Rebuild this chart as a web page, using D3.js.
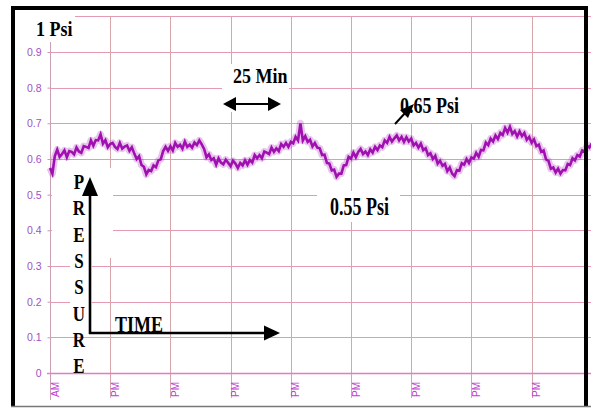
<!DOCTYPE html>
<html><head><meta charset="utf-8">
<script src="https://cdn.jsdelivr.net/npm/d3@7/dist/d3.min.js"></script>
<style>html,body{margin:0;padding:0;background:#fff;}svg{display:block;}</style>
</head><body>
<script>
// ---- data ----
const yTickValues = [0,0.1,0.2,0.3,0.4,0.5,0.6,0.7,0.8,0.9];
const yTickLabels = ["0","0.1","0.2","0.3","0.4","0.5","0.6","0.7","0.8","0.9"];
const yGridValues = [0.1,0.2,0.3,0.4,0.5,0.6,0.7,0.8,0.9,1.0];
const xTickMinutes = [0,25,50,75,100,125,150,175,200];
const xTickLabels = ["AM","PM","PM","PM","PM","PM","PM","PM","PM"];
const stepMinutes = 1;
// pressure (psi), one reading per minute
const pressure = [
0.575,0.559,0.608,0.626,0.606,0.614,0.624,0.605,0.622,0.620,
0.613,0.632,0.621,0.617,0.636,0.634,0.631,0.652,0.637,0.653,
0.652,0.669,0.643,0.653,0.633,0.642,0.645,0.634,0.628,0.645,
0.629,0.635,0.638,0.623,0.633,0.615,0.600,0.608,0.583,0.578,
0.557,0.569,0.566,0.582,0.577,0.596,0.599,0.622,0.634,0.623,
0.636,0.624,0.645,0.634,0.640,0.629,0.649,0.634,0.640,0.632,
0.646,0.639,0.652,0.641,0.628,0.605,0.613,0.597,0.602,0.584,
0.602,0.590,0.585,0.598,0.589,0.580,0.595,0.587,0.575,0.589,
0.582,0.596,0.584,0.597,0.590,0.611,0.602,0.611,0.602,0.621,
0.618,0.614,0.632,0.620,0.630,0.622,0.642,0.634,0.645,0.634,
0.648,0.644,0.662,0.652,0.700,0.652,0.664,0.648,0.654,0.635,
0.645,0.632,0.630,0.611,0.612,0.589,0.587,0.568,0.570,0.550,
0.559,0.559,0.582,0.583,0.606,0.601,0.618,0.605,0.620,0.628,
0.614,0.621,0.611,0.627,0.618,0.634,0.625,0.638,0.633,0.652,
0.645,0.662,0.649,0.658,0.666,0.652,0.662,0.648,0.661,0.649,
0.657,0.638,0.645,0.632,0.643,0.625,0.630,0.611,0.616,0.600,
0.609,0.587,0.595,0.581,0.586,0.566,0.576,0.559,0.552,0.569,
0.567,0.588,0.584,0.600,0.589,0.604,0.601,0.617,0.606,0.625,
0.624,0.646,0.639,0.657,0.649,0.666,0.656,0.673,0.667,0.687,
0.674,0.690,0.670,0.678,0.663,0.677,0.664,0.673,0.654,0.662,
0.646,0.655,0.636,0.640,0.620,0.624,0.599,0.595,0.573,0.576,
0.562,0.573,0.559,0.569,0.568,0.586,0.583,0.602,0.596,0.611,
0.607,0.624,0.621,0.637,0.632,0.644
];

// ---- drawing ----
const W = 591, H = 409;
const svg = d3.select("body").append("svg").attr("width", W).attr("height", H);
const x = d3.scaleLinear().domain([0, 225]).range([50, 591.8]);
const y = d3.scaleLinear().domain([0, 1]).range([373, 16.3]);

// horizontal grid
svg.append("g").selectAll("line").data(yGridValues).join("line")
  .attr("x1", 50).attr("x2", W)
  .attr("y1", d => Math.round(y(d)) + 0.5).attr("y2", d => Math.round(y(d)) + 0.5)
  .attr("stroke", "#e49ab2").attr("stroke-width", 1);
// vertical grid
svg.append("g").selectAll("line").data(xTickMinutes.slice(1)).join("line")
  .attr("x1", d => Math.round(x(d)) + 0.5).attr("x2", d => Math.round(x(d)) + 0.5)
  .attr("y1", 16).attr("y2", 398)
  .attr("stroke", "#d6a6aa").attr("stroke-width", 1);
// y axis line
svg.append("line").attr("x1", 50.5).attr("x2", 50.5).attr("y1", 16).attr("y2", 400)
  .attr("stroke", "#c9a0b4").attr("stroke-width", 1);
// zero line
svg.append("line").attr("x1", 47).attr("x2", W)
  .attr("y1", y(0) + 0.5).attr("y2", y(0) + 0.5)
  .attr("stroke", "#e07cc4").attr("stroke-width", 1.4);

// y axis ticks + labels
const yAxis = d3.axisLeft(y).tickValues(yTickValues).tickSize(3).tickPadding(6)
  .tickFormat((d, i) => yTickLabels[i]);
const gy = svg.append("g").attr("transform", "translate(50.5,0)").call(yAxis);
gy.select(".domain").remove();
gy.selectAll(".tick line").attr("stroke", "#d690b4");
gy.selectAll(".tick text").attr("fill", "#a050c4")
  .style("font-family", "'Liberation Sans', Arial, sans-serif").style("font-size", "10.5px");

// x tick labels (rotated)
svg.append("g").selectAll("text").data(xTickMinutes).join("text")
  .attr("transform", d => `translate(${x(d) + 8.5},397) rotate(-90)`)
  .attr("text-anchor", "start")
  .attr("fill", "#c040d2")
  .style("font-family", "'Liberation Sans', Arial, sans-serif").style("font-size", "10px")
  .text((d, i) => xTickLabels[i]);

// white annotation boxes
const boxes = [
  [15, 10, 60, 32],   // 1 Psi
  [52, 168, 61, 90],  // pressure label area
  [70, 258, 22, 72],
  [113, 311, 52, 21], // TIME
  [222, 64, 67, 48],  // 25 Min
  [397, 89, 83, 34],  // 0.65 Psi
  [317, 191, 83, 31]  // 0.55 Psi
];
svg.append("g").selectAll("rect").data(boxes).join("rect")
  .attr("x", d => d[0]).attr("y", d => d[1]).attr("width", d => d[2]).attr("height", d => d[3])
  .attr("fill", "#fff");

// pressure trace
const line = d3.line().x((d, i) => x(i * stepMinutes)).y(d => y(d));
svg.append("path").datum(pressure).attr("d", line)
  .attr("fill", "none").attr("stroke", "#b040c0").attr("stroke-width", 7).attr("stroke-opacity", 0.3)
  .attr("stroke-linejoin", "round");
svg.append("path").datum(pressure).attr("d", line)
  .attr("fill", "none").attr("stroke", "#a010b0").attr("stroke-width", 2.6)
  .attr("stroke-linejoin", "miter");

// annotations text
const serif = "'Liberation Serif', 'Times New Roman', serif";
function label(txt, px, py, size, sy) {
  svg.append("text").attr("transform", `translate(${px},${py}) scale(1,${sy})`)
    .style("font-family", serif).style("font-size", size + "px").style("font-weight", "bold")
    .attr("fill", "#000").text(txt);
}
label("1 Psi", 36, 36, 18, 1.2);
label("25 Min", 233, 83, 18, 1.2);
label("0.65 Psi", 400, 113, 18, 1.3);
label("0.55 Psi", 330, 215, 18, 1.35);
label("TIME", 115, 332, 18, 1.3);
const letters = "PRESSURE".split("");
letters.forEach((c, i) => {
  svg.append("text").attr("transform", `translate(79,${189 + i * 26.3}) scale(1,1.2)`)
    .attr("text-anchor", "middle")
    .style("font-family", serif).style("font-size", "17px").style("font-weight", "bold")
    .attr("fill", "#000").text(c);
});

// arrows
svg.append("line").attr("x1", 90).attr("y1", 334).attr("x2", 90).attr("y2", 192)
  .attr("stroke", "#000").attr("stroke-width", 2.6);
svg.append("path").attr("d", "M90,177 L82,196 L98,196 Z").attr("fill", "#000");
svg.append("line").attr("x1", 89).attr("y1", 333).attr("x2", 268).attr("y2", 333)
  .attr("stroke", "#000").attr("stroke-width", 2.6);
svg.append("path").attr("d", "M280,333 L264,325.5 L264,340.5 Z").attr("fill", "#000");
// 25 min double arrow
svg.append("line").attr("x1", 232).attr("y1", 104).attr("x2", 272).attr("y2", 104)
  .attr("stroke", "#000").attr("stroke-width", 2.2);
svg.append("path").attr("d", "M223,104 L236,97 L236,111 Z").attr("fill", "#000");
svg.append("path").attr("d", "M281,104 L268,97 L268,111 Z").attr("fill", "#000");
// 0.65 psi arrow
svg.append("line").attr("x1", 395).attr("y1", 124).attr("x2", 406).attr("y2", 112)
  .attr("stroke", "#000").attr("stroke-width", 2);
svg.append("path").attr("d", "M414,104 L400,110 L408,118 Z").attr("fill", "#000");

// frame
svg.append("line").attr("x1", 11).attr("x2", 588).attr("y1", 8).attr("y2", 8).attr("stroke", "#000").attr("stroke-width", 4);
svg.append("line").attr("x1", 13).attr("x2", 13).attr("y1", 6).attr("y2", 407).attr("stroke", "#000").attr("stroke-width", 4);
svg.append("line").attr("x1", 586).attr("x2", 586).attr("y1", 6).attr("y2", 407).attr("stroke", "#000").attr("stroke-width", 4);
svg.append("line").attr("x1", 11).attr("x2", 591).attr("y1", 406.5).attr("y2", 406.5).attr("stroke", "#777").attr("stroke-width", 1.5);
</script>
</body></html>
